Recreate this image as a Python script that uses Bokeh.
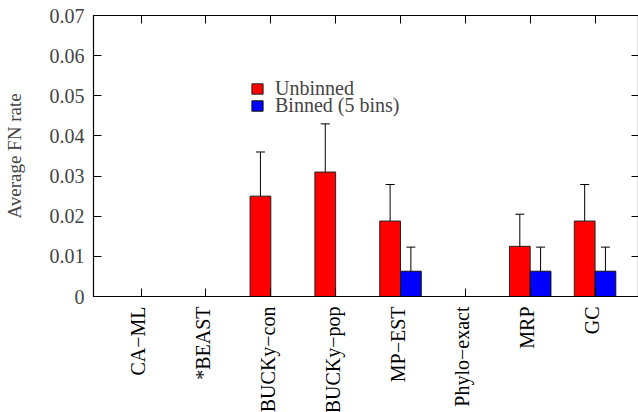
import math
from bokeh.plotting import figure
from bokeh.layouts import column
from bokeh.models import (Range1d, LinearAxis, FixedTicker, Whisker, TeeHead,
                          ColumnDataSource, Legend, LegendItem, CustomJSTickFormatter)
from bokeh.core.properties import value
from bokeh.embed import file_html
from bokeh.resources import INLINE

methods = ["CA\u2212ML", "*BEAST", "BUCKy\u2212con", "BUCKy\u2212pop", "MP\u2212EST",
           "Phylo\u2212exact", "MRP", "GC"]
unbinned = [0.0, 0.0, 0.025, 0.031, 0.0188, 0.0, 0.0125, 0.0188]
unbinned_lo = [0.0, 0.0, 0.014, 0.019, 0.0097, 0.0, 0.0045, 0.0097]
unbinned_hi = [0.0, 0.0, 0.036, 0.043, 0.0279, 0.0, 0.0205, 0.0279]
binned = [0.0, 0.0, 0.0, 0.0, 0.0063, 0.0, 0.0063, 0.0063]
binned_lo = [0.0, 0.0, 0.0, 0.0, 0.0002, 0.0, 0.0002, 0.0002]
binned_hi = [0.0, 0.0, 0.0, 0.0, 0.0123, 0.0, 0.0123, 0.0123]
y_ticks = [0, 0.01, 0.02, 0.03, 0.04, 0.05, 0.06, 0.07]

FONT = "Liberation Serif"
n = len(methods)
xs = list(range(n))
bw = 0.32
off = 0.16
xr = Range1d(-0.734, 7.67)

p = figure(frame_width=545, frame_height=281, output_backend="svg", toolbar_location=None,
           x_range=xr, y_range=Range1d(0, 0.07),
           min_border_left=92, min_border_right=1, min_border_top=15, min_border_bottom=10,
           x_axis_location=None, y_axis_location=None)
p.xgrid.visible = False
p.ygrid.visible = False
p.outline_line_color = "black"
p.outline_line_width = 1.2
p.background_fill_color = "white"
p.border_fill_color = "white"

src_r = ColumnDataSource(dict(x=[i - off for i in xs], top=unbinned))
src_b = ColumnDataSource(dict(x=[i + off for i in xs], top=binned))

r_red = p.vbar(x="x", top="top", bottom=0, width=bw, source=src_r,
               fill_color="#ff0000", line_color="#222222", line_width=1)
r_blue = p.vbar(x="x", top="top", bottom=0, width=bw, source=src_b,
                fill_color="#0000ff", line_color="#111111", line_width=1)

er_r = ColumnDataSource(dict(x=[i - off for i in xs if unbinned_hi[i] > 0],
                             lo=[unbinned_lo[i] for i in xs if unbinned_hi[i] > 0],
                             hi=[unbinned_hi[i] for i in xs if unbinned_hi[i] > 0]))
er_b = ColumnDataSource(dict(x=[i + off for i in xs if binned_hi[i] > 0],
                             lo=[binned_lo[i] for i in xs if binned_hi[i] > 0],
                             hi=[binned_hi[i] for i in xs if binned_hi[i] > 0]))
for s in (er_r, er_b):
    w = Whisker(base="x", lower="lo", upper="hi", source=s, line_color="black", line_width=1,
                upper_head=TeeHead(size=9, line_color="black", line_width=1),
                lower_head=TeeHead(size=9, line_color="black", line_width=1))
    p.add_layout(w)

ya = LinearAxis(ticker=FixedTicker(ticks=y_ticks),
                formatter=CustomJSTickFormatter(code="return tick == 0 ? '0' : tick.toFixed(2);"),
                axis_label="Average FN rate")
ya.major_tick_in = 8
ya.major_tick_out = 0
ya.minor_tick_line_color = None
ya.major_label_standoff = 9
ya.major_label_text_font = FONT
ya.major_label_text_font_size = "20px"
ya.axis_label_text_font = FONT
ya.axis_label_text_font_size = "19px"
ya.axis_label_text_font_style = "normal"
ya.axis_label_standoff = 22
p.add_layout(ya, "left")

yr = LinearAxis(ticker=FixedTicker(ticks=y_ticks))
yr.major_tick_in = 7
yr.major_tick_out = 0
yr.minor_tick_line_color = None
yr.major_label_text_font_size = "0px"
yr.major_label_standoff = 0
yr.major_label_text_alpha = 0
p.add_layout(yr, "right")

xa = LinearAxis(ticker=FixedTicker(ticks=xs))
xa.major_tick_in = 8
xa.major_tick_out = 0
xa.minor_tick_line_color = None
xa.major_label_text_font_size = "0px"
xa.major_label_standoff = 0
xa.major_label_text_alpha = 0
p.add_layout(xa, "below")

xt = LinearAxis(ticker=FixedTicker(ticks=xs))
xt.major_tick_in = 8
xt.major_tick_out = 0
xt.minor_tick_line_color = None
xt.major_label_text_font_size = "0px"
xt.major_label_standoff = 0
xt.major_label_text_alpha = 0
p.add_layout(xt, "above")

for it, r, yloc in (("Unbinned", r_red, 196), ("Binned (5 bins)", r_blue, 179)):
    lg = Legend(items=[LegendItem(label=it, renderers=[r])], location=(157, yloc),
                padding=0, margin=0, spacing=0, glyph_width=14, glyph_height=13,
                label_standoff=11, label_height=13, border_line_color=None,
                background_fill_alpha=0, label_text_font=FONT, label_text_font_size="20px")
    p.add_layout(lg, "center")

# category labels strip under the plot, sharing the x range
q = figure(frame_width=545, frame_height=106, output_backend="svg", toolbar_location=None,
           x_range=xr, y_range=Range1d(-1, 0),
           min_border_left=92, min_border_right=1, min_border_top=0, min_border_bottom=0,
           x_axis_location=None, y_axis_location=None)
q.xgrid.visible = False
q.ygrid.visible = False
q.outline_line_color = None
q.border_fill_color = "white"
q.background_fill_color = "white"
q.text(x=xs, y=[0] * n, text=methods, angle=math.pi / 2, x_offset=-3, y_offset=0,
       text_align="right", text_baseline="middle", text_font=value(FONT),
       text_font_size="20px", text_color="black")

layout = column(p, q, spacing=0)
open("out.html", "w").write(file_html(layout, INLINE))
